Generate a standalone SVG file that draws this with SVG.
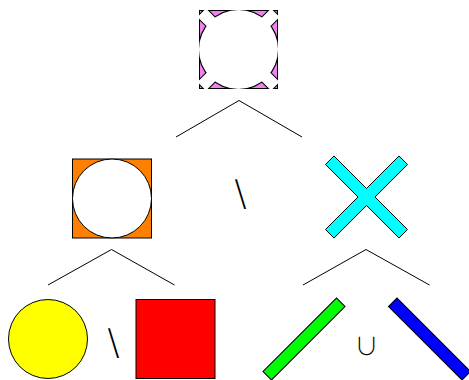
<svg xmlns="http://www.w3.org/2000/svg" width="469" height="380" viewBox="0 0 469 380">
<style>
.edge{stroke:#000;stroke-width:1;fill:none}
.sh{stroke:#000;stroke-width:1}
.op{font-family:"Noto Sans CJK SC","DejaVu Sans",sans-serif;font-weight:200;fill:#000;text-anchor:middle}
</style>
<defs>
<path id="xshape" d="M0,-8.49 L32.53,-41.01 L41.01,-32.53 L8.49,0 L41.01,32.53 L32.53,41.01 L0,8.49 L-32.53,41.01 L-41.01,32.53 L-8.49,0 L-41.01,-32.53 L-32.53,-41.01 Z"/>
<mask id="topmask" maskUnits="userSpaceOnUse" x="0" y="0" width="469" height="380">
<rect x="199" y="10" width="79" height="79" fill="#fff"/>
<circle cx="238.5" cy="49.5" r="39.5" fill="#000"/>
<use href="#xshape" transform="translate(238.5 49.5)" fill="#000"/>
</mask>
</defs>
<g id="connectors">
<polyline class="edge" points="176,137 239,100.5 302,137"/>
<polyline class="edge" points="48,285 111.5,249.5 174.5,285"/>
<polyline class="edge" points="303,285 366,249.5 429.5,285"/>
</g>
<g id="node-top" mask="url(#topmask)">
<rect x="199" y="10" width="79" height="79" fill="#ee82ee" stroke="#000" stroke-width="2"/>
<circle cx="238.5" cy="49.5" r="39.5" fill="none" stroke="#000" stroke-width="2"/>
<use href="#xshape" transform="translate(238.5 49.5)" fill="none" stroke="#000" stroke-width="2"/>
</g>
<g id="node-diff">
<rect class="sh" x="72.5" y="159" width="79" height="79" fill="#ff8000"/>
<circle class="sh" cx="112" cy="198.5" r="39.5" fill="#fff"/>
</g>
<g id="node-cross">
<use href="#xshape" class="sh" transform="translate(366.5 197)" fill="#00ffff"/>
</g>
<g id="node-circle">
<circle class="sh" cx="48" cy="339" r="39.5" fill="#ffff00"/>
</g>
<g id="node-square">
<rect class="sh" x="136" y="299.5" width="79" height="79" fill="#ff0000"/>
</g>
<g id="node-green">
<rect class="sh" x="-52" y="-6" width="104" height="12" fill="#00ff00" transform="translate(304 339) rotate(-45)"/>
</g>
<g id="node-blue">
<rect class="sh" x="-52" y="-6" width="104" height="12" fill="#0000ff" transform="translate(429.5 339) rotate(45)"/>
</g>
<g id="labels">
<text class="op" x="239" y="207" font-size="36">∖</text>
<text class="op" x="112" y="356" font-size="36">∖</text>
<text class="op" x="366.5" y="355" font-size="24">∪</text>
</g>
</svg>
